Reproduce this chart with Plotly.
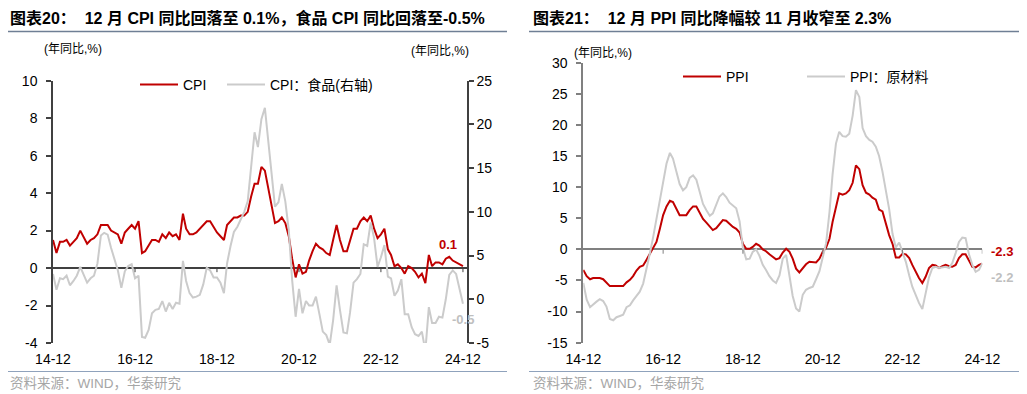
import plotly.graph_objects as go
import pandas as pd

# ---------------- data ----------------
months = pd.date_range("2014-12-01", "2024-12-01", freq="MS")

cpi = [1.5,
       0.8, 1.4, 1.4, 1.5, 1.2, 1.4, 1.6, 2.0, 1.6, 1.3, 1.5, 1.6,
       1.8, 2.3, 2.3, 2.3, 2.0, 1.9, 1.8, 1.3, 1.9, 2.1, 2.3, 2.1,
       2.5, 0.8, 0.9, 1.2, 1.5, 1.5, 1.4, 1.8, 1.6, 1.9, 1.7, 1.8,
       1.5, 2.9, 2.1, 1.8, 1.8, 1.9, 2.1, 2.3, 2.5, 2.5, 2.2, 1.9,
       1.7, 1.5, 2.3, 2.5, 2.7, 2.7, 2.8, 2.8, 3.0, 3.8, 4.5, 4.5,
       5.4, 5.2, 4.3, 3.3, 2.4, 2.5, 2.7, 2.4, 1.7, 0.5, -0.5, 0.2,
       -0.3, -0.2, 0.4, 0.9, 1.3, 1.1, 1.0, 0.8, 0.7, 1.5, 2.3, 1.5,
       0.9, 0.9, 1.5, 2.1, 2.1, 2.5, 2.7, 2.5, 2.8, 2.1, 1.6, 1.8,
       2.1, 1.0, 0.7, 0.1, 0.2, 0.0, -0.3, 0.1, 0.0, -0.2, -0.5, -0.3,
       -0.8, 0.7, 0.1, 0.3, 0.3, 0.2, 0.5, 0.6, 0.4, 0.3, 0.2, 0.1]

cpi_food = [2.9,
            1.1, 2.4, 2.3, 2.7, 1.6, 2.1, 2.7, 3.7, 2.7, 1.9, 2.4, 2.7,
            4.1, 7.3, 7.6, 7.4, 5.9, 4.6, 3.3, 1.3, 3.2, 3.8, 4.0, 2.4,
            2.7, -4.3, -4.4, -3.5, -1.6, -1.2, -1.1, -0.2, -1.4, -0.4, -1.1, -0.4,
            -0.5, 4.4, 2.1, 0.7, 0.2, 0.3, 0.5, 1.7, 3.6, 3.3, 2.5, 2.5,
            1.9, 0.7, 4.1, 6.1, 7.7, 8.3, 9.1, 10.0, 11.2, 15.5, 19.1, 17.4,
            20.6, 21.9, 18.3, 14.8, 10.6, 11.1, 13.2, 11.2, 7.9, 2.2, -2.0, 1.2,
            -1.6, -0.2, -0.7, -0.7, 0.3, -1.7, -3.7, -4.1, -5.2, -2.4, 1.6, -1.2,
            -3.8, -3.9, -1.5, 1.9, 2.3, 2.9, 6.3, 6.1, 8.8, 7.0, 3.7, 4.8,
            6.2, 2.6, 2.4, 0.4, 1.0, 2.3, -1.7, -1.7, -3.2, -4.0, -4.2, -3.7,
            -5.9, -0.9, -2.7, -2.7, -2.0, -2.1, 0.0, 2.8, 3.3, 2.9, 1.0, -0.5]

ppi = [-3.3,
       -4.3, -4.8, -4.6, -4.6, -4.6, -4.8, -5.4, -5.9, -5.9, -5.9, -5.9, -5.9,
       -5.3, -4.9, -4.3, -3.4, -2.8, -2.6, -1.7, -0.8, 0.1, 1.2, 3.3, 5.5,
       6.9, 7.8, 7.6, 6.4, 5.5, 5.5, 5.5, 6.3, 6.9, 6.9, 5.8, 4.9,
       4.3, 3.7, 3.1, 3.4, 4.1, 4.7, 4.6, 4.1, 3.6, 3.3, 2.7, 0.9,
       0.1, 0.1, 0.4, 0.9, 0.6, 0.0, -0.3, -0.8, -1.2, -1.6, -1.4, -0.5,
       0.1, -0.4, -1.5, -3.1, -3.7, -3.0, -2.4, -2.0, -2.1, -2.1, -1.5, -0.4,
       0.3, 1.7, 4.4, 6.8, 9.0, 8.8, 9.0, 9.5, 10.7, 13.5, 12.9, 10.3,
       9.1, 8.8, 8.3, 8.0, 6.4, 6.1, 4.2, 2.3, 0.9, -1.3, -1.3, -0.7,
       -0.8, -1.4, -2.5, -3.6, -4.6, -5.4, -4.4, -3.0, -2.5, -2.6, -3.0, -2.7,
       -2.5, -2.7, -2.8, -2.5, -1.4, -0.8, -0.8, -1.8, -2.8, -2.9, -2.5, -2.3]

ppi_raw = [-5.4,
           -8.1, -9.3, -8.8, -8.4, -8.0, -8.3, -9.2, -11.2, -11.4, -10.9, -10.7, -10.5,
           -9.3, -9.0, -8.2, -7.4, -6.8, -5.5, -3.3, -0.7, 2.0, 5.0, 8.0, 11.0,
           13.8, 15.5, 14.6, 12.5, 10.5, 9.5, 10.0, 11.5, 11.9, 11.2, 9.0, 7.3,
           6.3, 5.4, 5.8, 7.2, 8.5, 9.0, 8.4, 7.5, 7.0, 6.6, 4.5, 0.2,
           -1.6, -1.5, -0.4, 0.0, -1.0, -2.5, -3.3, -4.3, -5.0, -5.4, -4.2, -1.5,
           -0.9, -4.4, -7.5, -9.5, -10.0, -7.3, -6.5, -6.2, -6.0, -4.8, -3.5, -1.3,
           1.0, 6.0, 12.0, 17.0, 18.9, 18.2, 18.1, 18.6, 21.5, 25.6, 24.5, 19.5,
           18.2, 17.6, 17.3, 16.5, 15.0, 12.5, 9.6, 6.5, 2.5, 0.3, 1.1, -0.5,
           -2.0, -4.2, -6.0, -7.3, -8.6, -9.6, -6.8, -4.5, -3.0, -2.8, -3.0, -2.9,
           -2.8, -3.0, -2.2, -0.6, 1.2, 1.9, 1.8, -0.8, -2.5, -3.6, -3.3, -2.2]

tick_dates = ["2014-12-01", "2016-12-01", "2018-12-01", "2020-12-01", "2022-12-01", "2024-12-01"]
tick_labels = ["14-12", "16-12", "18-12", "20-12", "22-12", "24-12"]
cpi_ticks = [-4, -2, 0, 2, 4, 6, 8, 10]
food_ticks = [-5, 0, 5, 10, 15, 20, 25]
ppi_ticks = [-15, -10, -5, 0, 5, 10, 15, 20, 25, 30]

# ---------------- style ----------------
OFF = 8                     # page body margin of the html document
VW, VH = 1027, 394          # browser window
W, H = VW - OFF, VH - OFF   # figure size so it fits the window exactly
RED = "#C00000"
GRAY = "#CBCBCB"
FONT = "Liberation Sans, Arial, Noto Sans CJK SC"
CJK = "Liberation Sans, Noto Sans CJK SC"


def px(x):
    return (x - OFF) / W


def py(y):
    return 1 - (y - OFF) / H


fig = go.Figure()

fig.add_trace(go.Scatter(x=months, y=cpi, name="CPI", mode="lines",
                         line=dict(color=RED, width=2), xaxis="x", yaxis="y",
                         legend="legend"))
fig.add_trace(go.Scatter(x=months, y=cpi_food, name="CPI：食品(右轴)", mode="lines",
                         line=dict(color=GRAY, width=2), xaxis="x", yaxis="y2",
                         legend="legend2"))
fig.add_trace(go.Scatter(x=months, y=ppi, name="PPI", mode="lines",
                         line=dict(color=RED, width=2), xaxis="x2", yaxis="y3",
                         legend="legend3"))
fig.add_trace(go.Scatter(x=months, y=ppi_raw, name="PPI：原材料", mode="lines",
                         line=dict(color=GRAY, width=2), xaxis="x2", yaxis="y3",
                         legend="legend4"))

leg_common = dict(orientation="h", xanchor="left", yanchor="middle",
                  bgcolor="rgba(0,0,0,0)", font=dict(family=CJK, size=14, color="#000"),
                  itemwidth=38)

tickfont = dict(family=FONT, size=14, color="#000")


def lbl(v):
    return [str(t) for t in v]


fig.update_layout(
    width=W, height=H,
    margin=dict(l=0, r=0, t=0, b=0, autoexpand=False),
    paper_bgcolor="white", plot_bgcolor="white",
    showlegend=True,
    legend=dict(x=px(135), y=py(85), **leg_common),
    legend2=dict(x=px(222), y=py(85), **leg_common),
    legend3=dict(x=px(678), y=py(77), **leg_common),
    legend4=dict(x=px(802), y=py(77), **leg_common),
    xaxis=dict(domain=[px(53), px(467)], anchor="y", type="date",
               range=["2014-12-01", "2025-01-06"], automargin=False,
               tickvals=tick_dates, ticktext=tick_labels, ticks="",
               showgrid=False, zeroline=False, showline=False,
               tickfont=tickfont, ticklabelstandoff=6),
    yaxis=dict(domain=[py(343), py(80.7)], anchor="x", range=[-4, 10], automargin=False,
               tickvals=cpi_ticks, ticktext=lbl(cpi_ticks),
               showgrid=False, showline=True, linecolor="#404040", linewidth=1.5,
               ticks="outside", ticklen=5, tickcolor="#404040", tickwidth=1.5,
               zeroline=True, zerolinecolor="#404040", zerolinewidth=1.5,
               tickfont=tickfont, ticklabelstandoff=6),
    yaxis2=dict(overlaying="y", side="right", anchor="x", range=[-5, 25], automargin=False,
                tickvals=food_ticks, ticktext=lbl(food_ticks),
                showgrid=False, showline=True, linecolor="#404040", linewidth=1.5,
                ticks="outside", ticklen=5, tickcolor="#404040", tickwidth=1.5,
                zeroline=False, tickfont=tickfont),
    xaxis2=dict(domain=[px(583.3), px(982.3)], anchor="y3", type="date",
                range=["2014-12-01", "2024-12-01"], automargin=False,
                tickvals=tick_dates, ticktext=tick_labels, ticks="",
                showgrid=False, zeroline=False, showline=False,
                tickfont=tickfont, ticklabelstandoff=6),
    yaxis3=dict(domain=[py(342.7), py(62.7)], anchor="x2", range=[-15, 30], automargin=False,
                tickvals=ppi_ticks, ticktext=lbl(ppi_ticks),
                showgrid=False, showline=True, linecolor="#808080", linewidth=2,
                ticks="outside", ticklen=5, tickcolor="#808080", tickwidth=1.5,
                zeroline=True, zerolinecolor="#808080", zerolinewidth=2,
                tickfont=tickfont, ticklabelstandoff=6),
)

shapes = []
shapes.append(dict(type="line", xref="paper", yref="paper", x0=px(8), x1=px(507),
                   y0=py(31.5), y1=py(31.5), line=dict(color="#6F7F95", width=1.5)))
shapes.append(dict(type="line", xref="paper", yref="paper", x0=px(529), x1=px(1027),
                   y0=py(31.5), y1=py(31.5), line=dict(color="#6F7F95", width=1.5)))
shapes.append(dict(type="line", xref="paper", yref="paper", x0=px(8), x1=px(507),
                   y0=py(371.5), y1=py(371.5), line=dict(color="#8FA2BC", width=1)))
shapes.append(dict(type="line", xref="paper", yref="paper", x0=px(529), x1=px(1027),
                   y0=py(371.5), y1=py(371.5), line=dict(color="#8FA2BC", width=1)))
for d in tick_dates[1:]:
    shapes.append(dict(type="line", xref="x", yref="y", x0=d, x1=d, y0=0, y1=-0.22,
                       line=dict(color="#404040", width=1)))
    shapes.append(dict(type="line", xref="x2", yref="y3", x0=d, x1=d, y0=0, y1=-0.7,
                       line=dict(color="#808080", width=1)))
fig.update_layout(shapes=shapes)

ann = []
ann.append(dict(xref="paper", yref="paper", x=px(8), y=py(18), xanchor="left", yanchor="middle",
                text="<b>图表20：  12 月 CPI 同比回落至 0.1%，食品 CPI 同比回落至-0.5%</b>",
                showarrow=False, font=dict(family=CJK, size=16, color="#000")))
ann.append(dict(xref="paper", yref="paper", x=px(531), y=py(18), xanchor="left", yanchor="middle",
                text="<b>图表21：  12 月 PPI 同比降幅较 11 月收窄至 2.3%</b>",
                showarrow=False, font=dict(family=CJK, size=16, color="#000")))
for xc, yc in [(73, 49), (440, 51), (603, 53)]:
    ann.append(dict(xref="paper", yref="paper", x=px(xc), y=py(yc), xanchor="center",
                    yanchor="middle", text="(年同比,%)", showarrow=False,
                    font=dict(family=CJK, size=12, color="#000")))
for xs in [8, 531]:
    ann.append(dict(xref="paper", yref="paper", x=px(xs), y=py(383), xanchor="left",
                    yanchor="middle", text="资料来源：WIND，华泰研究", showarrow=False,
                    font=dict(family=CJK, size=13.5, color="#A6A6A6")))
ann.append(dict(xref="x", yref="y", x=months[-1], y=cpi[-1], xshift=-15, yshift=22,
                text=f"<b>{cpi[-1]:.1f}</b>", showarrow=False,
                font=dict(family=FONT, size=13, color=RED)))
ann.append(dict(xref="x", yref="y2", x=months[-1], y=cpi_food[-1], xshift=0, yshift=-16,
                text=f"<b>{cpi_food[-1]:.1f}</b>", showarrow=False,
                font=dict(family=FONT, size=13, color="#BFBFBF")))
ann.append(dict(xref="x2", yref="y3", x=months[-1], y=ppi[-1], xshift=20, yshift=12,
                text=f"<b>{ppi[-1]:.1f}</b>", showarrow=False,
                font=dict(family=FONT, size=13, color=RED)))
ann.append(dict(xref="x2", yref="y3", x=months[-1], y=ppi_raw[-1], xshift=20, yshift=-14,
                text=f"<b>{ppi_raw[-1]:.1f}</b>", showarrow=False,
                font=dict(family=FONT, size=13, color="#BFBFBF")))
fig.update_layout(annotations=ann)

fig.write_html("out.html")
